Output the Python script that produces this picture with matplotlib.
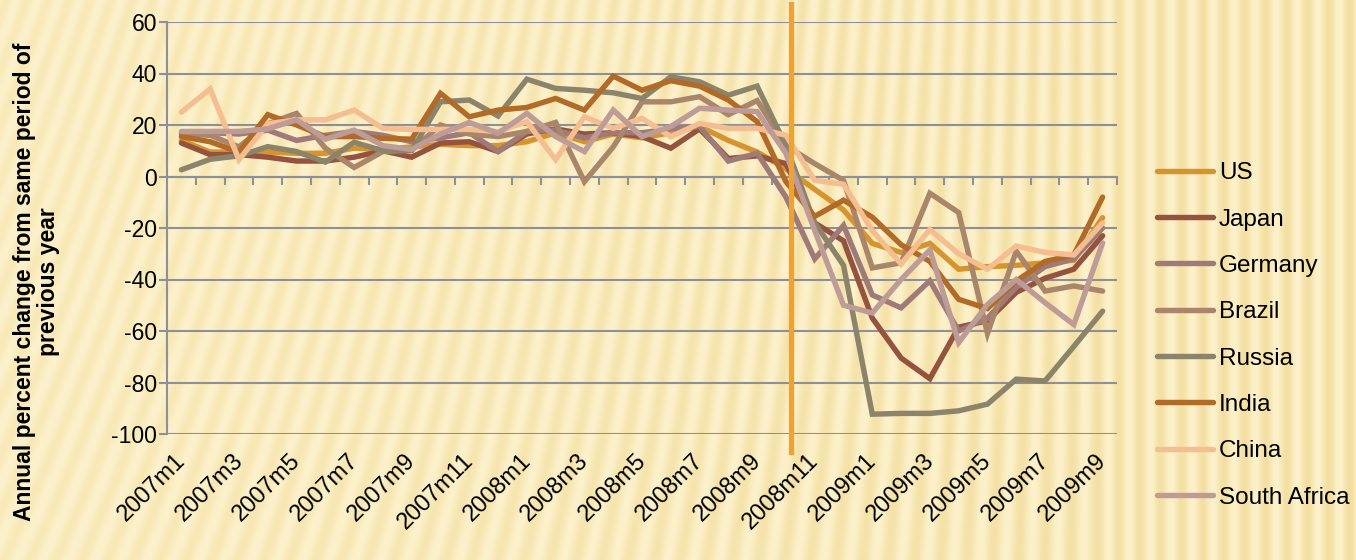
import numpy as np
import matplotlib.pyplot as plt

# categories -------------------------------------------------------------
months = [f"{y}m{m}" for y in (2007, 2008, 2009) for m in range(1, 13)][:33]

# series values (annual % change) ---------------------------------------
us = [14, 9.5, 9.5, 9.5, 9, 9, 11, 10.5, 11.5, 12.5, 12, 12, 13.5, 17, 13.5, 16.5, 15,
      17, 19.5, 14, 9.5, 3, -5, -13, -26, -29.5, -26, -36, -35, -34.5, -33.5, -32.5, -16]
japan = [13, 8.5, 8.5, 7.5, 6, 6, 7.5, 10, 7.5, 13, 13.5, 9.7, 16.5, 18.5, 16.5, 17, 15.5,
         11, 18.5, 7, 8, 5, -18, -25, -55, -70.5, -78.5, -58.5, -56, -45, -39.5, -36, -23]
germany = [17, 17, 16.5, 18, 14, 16, 17.5, 16, 13.5, 15, 17, 9.7, 17.5, 18, 15, 17, 17,
           18.5, 19.5, 6, 9, -8, -32, -19, -46, -51, -40.5, -60, -55, -43, -35, -32, -20]
brazil = [16.5, 16, 11.5, 20.5, 24.5, 11, 3.5, 9.7, 10.3, 20, 16.5, 15.5, 17.5, 21, -2, 11.5, 29,
          29, 31, 24, 29.5, 12, 5, -1.5, -35.5, -33.5, -6.5, -14, -61, -29, -44.5, -42.5, -44.5]
russia = [2.6, 6.7, 8, 11.6, 9.7, 5.6, 13.3, 10, 10, 29, 29.7, 23.5, 37.8, 34.2, 33.5, 32.5, 30.3,
          38.7, 36.8, 31.6, 35.1, 12, -18, -34.5, -92.3, -92, -92, -91, -88.4, -78.7, -79.4, -66, -52.3]
india = [15.5, 13.5, 9.5, 24, 20, 15.5, 15.5, 14.8, 14.5, 32.3, 23.2, 25.8, 26.8, 30.3, 25.8, 39, 33.5,
         37.2, 35.1, 29.7, 21.3, -2, -15.5, -9.2, -15.8, -26.5, -33, -47.7, -51.3, -40.6, -33, -30.5, -8]
china = [25, 34, 6.5, 20.5, 22, 22, 25.8, 18.7, 18.3, 18.3, 18.3, 17.4, 21.3, 6.5, 23.2, 18.7, 22.6,
         15.5, 20.6, 18.7, 18.7, 16, -1.5, -3, -21, -34, -20.6, -30, -36, -27, -29.5, -30.5, -18]
south_africa = [17.5, 17.5, 17.5, 18.5, 22, 14.5, 18, 12, 10.5, 16.5, 21, 16.8, 24.5, 15.5, 9.7, 25.8, 15.5,
                19.4, 26.5, 25.8, 25.2, 9, -21, -50, -53, -40, -28.5, -64.5, -49.7, -40, -49, -57.5, -25.8]

series = [("US", us, "#D6942E"), ("Japan", japan, "#94533F"), ("Germany", germany, "#9E7B79"),
          ("Brazil", brazil, "#A9866A"), ("Russia", russia, "#8B846A"), ("India", india, "#B16A27"),
          ("China", china, "#F5BE90"), ("South Africa", south_africa, "#BD9C97")]

crisis_x = 21.17   # position of the vertical marker, in category units

plt.rcParams['font.family'] = ['Liberation Sans', 'DejaVu Sans']
plt.rcParams['axes.unicode_minus'] = False
narrow = ['Liberation Sans Narrow', 'Liberation Sans', 'DejaVu Sans']

fig = plt.figure(figsize=(13.56, 5.6), dpi=100)

# striped background -----------------------------------------------------
bg = fig.add_axes([0, 0, 1, 1], zorder=-10)
yy, xx = np.mgrid[0:560, 0:1356]
slant = 0.38 * np.clip(1 - xx / 1100, 0, 1)
phase = (xx + slant * yy) / 21.0 * 2 * np.pi
w = 0.5 + 0.5 * np.sin(phase)
base = np.array([252, 241, 203]) / 255
dark = np.array([240, 218, 150]) / 255
amp = 0.35 + 0.45 * (xx / 1356)
img = base + (dark - base) * (w * amp)[..., None]
bg.imshow(img, aspect='auto', interpolation='bilinear')
bg.axis('off')

# main axes --------------------------------------------------------------
ax = fig.add_axes([167 / 1356, 1 - 434 / 560, 950 / 1356, 412 / 560])
ax.set_facecolor('none')
x = np.arange(len(months))

for name, vals, col in series:
    ax.plot(x, vals, color=col, lw=3.9, label=name, solid_capstyle='round',
            solid_joinstyle='miter', zorder=3)

grid_col = '#8D9096'
ax.set_xlim(-0.5, len(months) - 0.5)
ax.set_ylim(-100, 60)
ax.set_yticks(np.arange(-100, 61, 20))
ax.yaxis.grid(True, color=grid_col, lw=1.5, zorder=1)
ax.set_axisbelow(True)
for s in ('top', 'right'):
    ax.spines[s].set_visible(False)
ax.spines['left'].set_color(grid_col)
ax.spines['left'].set_linewidth(1.5)
ax.spines['bottom'].set_position(('data', 0))
ax.spines['bottom'].set_color(grid_col)
ax.spines['bottom'].set_linewidth(1.5)
ax.tick_params(axis='y', direction='out', length=6, width=1.5, color=grid_col,
               labelsize=16.5, pad=1)
ax.set_xticks(x[:-1] + 0.5)
ax.set_xticks(x[-1:] + 0.5, minor=True)
ax.tick_params(axis='x', which='both', direction='out', length=6, width=1.5,
               color=grid_col, labelbottom=False)

for i in range(0, len(months), 2):
    ax.text(i - 0.25, -106, months[i], rotation=45, ha='right', va='top',
            fontsize=17, rotation_mode='anchor')

ax.axvline(crisis_x, ymin=-0.043, ymax=1.043, color='#F0A22E', lw=3.8,
           clip_on=False, zorder=4)

ax.set_ylabel("Annual percent change from same period of\nprevious year",
              fontsize=16.5, fontweight='bold', linespacing=1.05)
ax.yaxis.set_label_coords(-0.113, 0.37)

fig.legend(loc='center left', bbox_to_anchor=(0.853, 0.401), frameon=False,
           prop={'family': narrow, 'size': 17.5}, handlelength=2.3,
           handletextpad=0.25, labelspacing=1.0, borderpad=0, borderaxespad=0)

fig.savefig('out.png', dpi=100)
